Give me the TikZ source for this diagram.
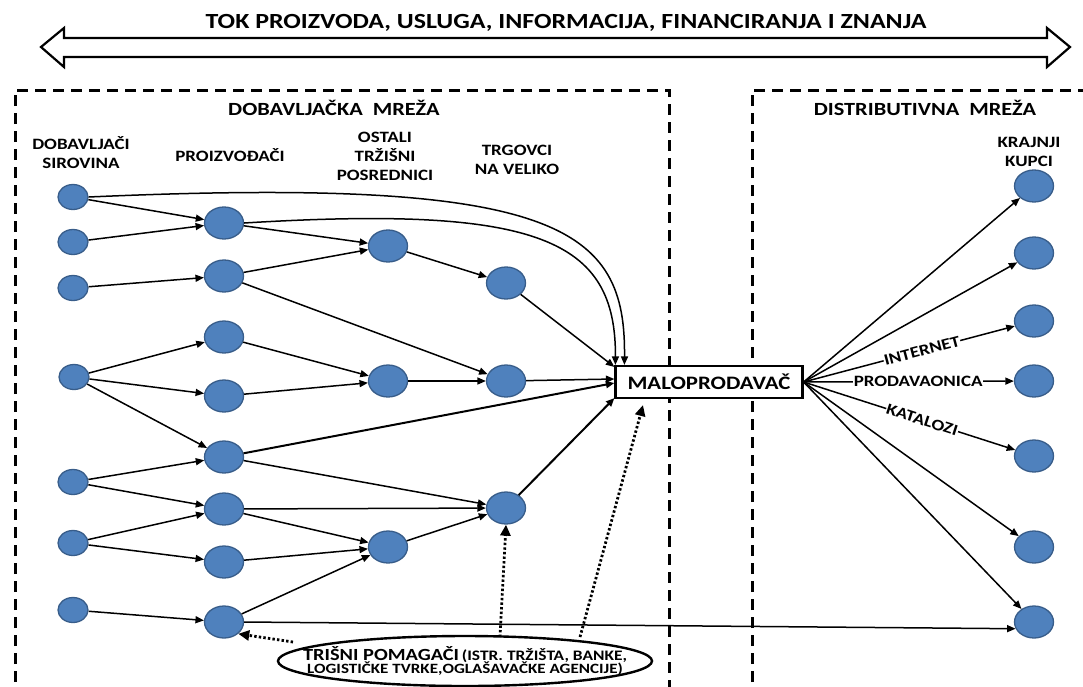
\documentclass[tikz,border=0pt]{standalone}
\usepackage{fontspec}
\setmainfont[FakeStretch=1.2]{Carlito}
\usetikzlibrary{shapes.geometric,arrows.meta,calc}
\definecolor{nodeblue}{RGB}{79,129,189}
\definecolor{nodeborder}{RGB}{56,93,138}
\tikzset{
  sn/.style={ellipse, fill=nodeblue, draw=nodeborder, line width=1.3pt, minimum width=30pt, minimum height=25pt, inner sep=0pt},
  bn/.style={sn, minimum width=39pt, minimum height=32pt},
  ar/.style={-{Triangle[length=8.5pt,width=7pt]}, line width=1.5pt},
  thk/.style={ar, line width=2pt},
  dotar/.style={-{Triangle[length=11pt,width=10pt]}, line width=2.8pt, dash pattern=on 2.4pt off 2.2pt},
  boxline/.style={line width=3pt, dash pattern=on 11pt off 7pt},
  lbl/.style={font=\bfseries\fontsize{15.8}{19}\selectfont, align=center},
  sect/.style={font=\bfseries\fontsize{18.6}{22}\selectfont},
  chan/.style={font=\bfseries\fontsize{15.8}{18}\selectfont, fill=white, inner sep=0.5pt},
}
\begin{document}
\begin{tikzpicture}[x=1pt,y=-1pt]
\useasboundingbox (0,0) rectangle (1083,686);
% title and double arrow
\node[font=\bfseries\fontsize{21.6}{24}\selectfont] (title) at (566,23) {TOK PROIZVODA, USLUGA, INFORMACIJA, FINANCIRANJA I ZNANJA};
\draw[line width=2.2pt, line join=miter] (41,47) -- (64,28) -- (64,38) -- (1047,38) -- (1047,28) -- (1070,47) -- (1047,67) -- (1047,57) -- (64,57) -- (64,67) -- cycle;
% dashed boxes
\draw[boxline] (15,700) -- (15,90) -- (669,90) -- (669,700);
\draw[boxline] (752,700) -- (752,90) -- (1100,90);
% section labels
\node[sect] (s1) at (334,108) {DOBAVLJAČKA\ \ MREŽA};
\node[sect] (s2) at (925,108) {DISTRIBUTIVNA\ \ MREŽA};
\node[lbl] (l1) at (81,153) {DOBAVLJAČI\\SIROVINA};
\node[lbl] (l2) at (230,155) {PROIZVOĐAČI};
\node[lbl] (l3) at (385,156) {OSTALI\\TRŽIŠNI\\POSREDNICI};
\node[lbl] (l4) at (517,160) {TRGOVCI\\NA VELIKO};
\node[lbl] (l5) at (1029,152) {KRAJNJI\\KUPCI};
% column A
\node[sn] (A1) at (73,197) {};
\node[sn] (A2) at (73,242) {};
\node[sn] (A3) at (73,288) {};
\node[sn] (A4) at (74,377) {};
\node[sn] (A5) at (73,482) {};
\node[sn] (A6) at (73,543) {};
\node[sn] (A7) at (73,610) {};
% column B
\node[bn] (B1) at (224,223) {};
\node[bn] (B2) at (224,276) {};
\node[bn] (B3) at (224,337) {};
\node[bn] (B4) at (224,396) {};
\node[bn] (B5) at (224,457) {};
\node[bn] (B6) at (224,509) {};
\node[bn] (B7) at (224,562) {};
\node[bn] (B8) at (224,622) {};
% column C
\node[bn] (C1) at (388,246) {};
\node[bn] (C2) at (388,381) {};
\node[bn] (C3) at (388,547) {};
% column D
\node[bn] (D1) at (506,283) {};
\node[bn] (D2) at (506,381) {};
\node[bn] (D3) at (506,508) {};
% customers
\node[bn] (K1) at (1034,186) {};
\node[bn] (K2) at (1034,253) {};
\node[bn] (K3) at (1034,321) {};
\node[bn] (K4) at (1034,381) {};
\node[bn] (K5) at (1034,456) {};
\node[bn] (K6) at (1034,547) {};
\node[bn] (K7) at (1034,622) {};
% retailer
\node[draw, fill=white, line width=2.2pt, minimum width=187pt, minimum height=32pt, inner sep=0pt, font=\bfseries\fontsize{19}{22}\selectfont] (M) at (709,382) {MALOPRODAVAČ};
% helpers ellipse
\node[ellipse, draw, fill=white, line width=2.4pt, minimum width=374pt, minimum height=50pt, inner xsep=-75pt, inner ysep=-8pt, align=center] (E) at (465,661)
  {{\bfseries\fontsize{17}{17}\selectfont TRIŠNI POMAGAČI} {\bfseries\fontsize{14.5}{17}\selectfont (ISTR. TRŽIŠTA, BANKE,}\\[-2pt]
   {\bfseries\fontsize{14.2}{14}\selectfont LOGISTIČKE TVRKE,OGLAŠAVAČKE AGENCIJE)}};
% edges in supply network
\draw[ar] (A1) -- (B1);
\draw[ar] (A2) -- (B1);
\draw[ar] (A3) -- (B2);
\draw[ar] (B1) -- (C1);
\draw[ar] (B2) -- (C1);
\draw[ar] (B2) -- (D2);
\draw[ar] (C1) -- (D1);
\draw[ar] (A4) -- (B3);
\draw[ar] (A4) -- (B4);
\draw[ar] (A4) -- (B5);
\draw[ar] (B3) -- (C2);
\draw[ar] (B4) -- (C2);
\draw[ar] (C2) -- (D2);
\draw[ar] (A5) -- (B5);
\draw[ar] (A5) -- (B6);
\draw[ar] (A6) -- (B6);
\draw[ar] (A6) -- (B7);
\draw[ar] (A7) -- (B8);
\draw[ar] (B5) -- (D3);
\draw[ar] (B6) -- (D3);
\draw[ar] (B6) -- (C3);
\draw[ar] (B7) -- (C3);
\draw[ar] (B8) -- (C3);
\draw[ar] (C3) -- (D3);
% into retailer
\draw[ar] (A1.east) .. controls (560,176) and (626,228) .. ($(M.north west)+(10,0)$);
\draw[ar] (B1.east) .. controls (540,205) and (616,240) .. ($(M.north west)+(1,0)$);
\draw[ar] (D1) -- ($(M.north west)+(0,2)$);
\draw[ar] (D2) -- ($(M.west)+(0,-3)$);
\draw[thk] (B5) -- ($(M.west)+(0,1)$);
\draw[thk] (D3) -- ($(M.south west)+(0,-1)$);
% out to customers
\draw[ar] (M.east) -- (K1);
\draw[ar] (M.east) -- (K2);
\draw[ar] (M.east) -- node[chan, sloped, pos=0.56] {INTERNET} (K3);
\draw[ar] (M.east) -- node[chan, pos=0.545] {PRODAVAONICA} (K4);
\draw[ar] (M.east) -- node[chan, sloped, pos=0.56] {KATALOZI} (K5);
\draw[ar] (M.east) -- (K6);
\draw[ar] (M.east) -- (K7);
\draw[ar] (B8.east) -- (K7.200);
% dotted helper arrows
\coordinate (e1) at (293,642);
\coordinate (e2) at (500,637);
\coordinate (e3) at (580,637);
\coordinate (mt) at (643,405);
\draw[dotar] (e1) -- (B8.south east);
\draw[dotar] (e2) -- (D3.south);
\draw[dotar] (e3) -- (mt);
\end{tikzpicture}
\end{document}
